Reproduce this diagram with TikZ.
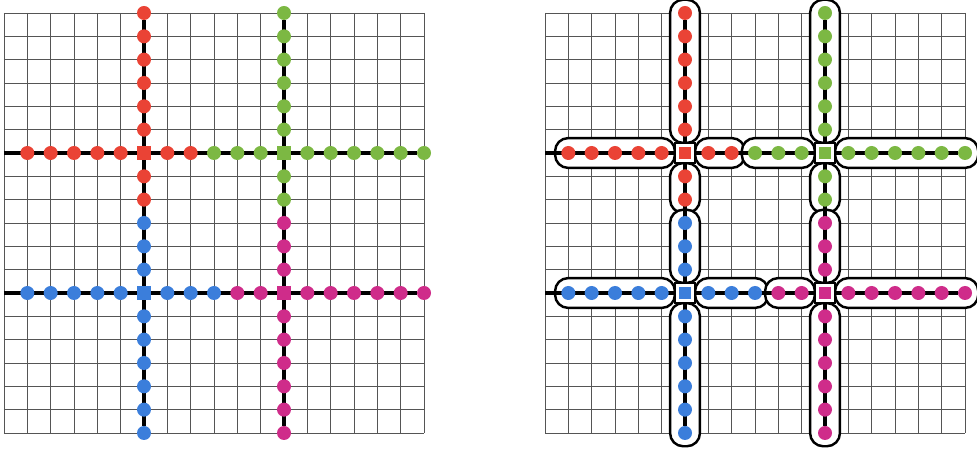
\documentclass[tikz,border=0pt]{standalone}
\usetikzlibrary{positioning, fit}
\definecolor{dotred}{HTML}{EA4335}
\definecolor{dotgreen}{HTML}{7CB843}
\definecolor{dotblue}{HTML}{3B7EDB}
\definecolor{dotpink}{HTML}{CF2C8A}
\definecolor{gridgray}{HTML}{555555}

\pgfdeclarelayer{gridlayer}
\pgfdeclarelayer{boxlayer}
\pgfdeclarelayer{linelayer}
\pgfsetlayers{gridlayer,boxlayer,linelayer,main}

\begin{document}
\begin{tikzpicture}[
  x=0.7cm, y=0.7cm,
  gridline/.style={gridgray, line width=0.8pt},
  track/.style={line width=3.4pt, black},
]

% =============================================
% Styles — dots, hubs and group boxes
% =============================================
\tikzset{
  pt/.style={circle, fill=#1, inner sep=0pt, minimum size=4.2mm},
  hub/.style 2 args={rectangle, fill=#1, inner sep=0pt, minimum size=#2},
  hubframe/.style={rectangle, draw=black, fill=white, line width=1.7pt,
    inner sep=0pt, minimum size=5.8mm},
  hgrp/.style={draw=black, fill=white, line width=2.1pt, rounded corners=3.9mm,
    inner xsep=1.8mm, inner ysep=2.3mm},
  vgrp/.style={draw=black, fill=white, line width=2.1pt, rounded corners=3.9mm,
    inner xsep=2.3mm, inner ysep=1.8mm},
}

\useasboundingbox (-0.1714,0.557) rectangle (41.70,-18.90);

% =============================================
% Both panels: grid, tracks and dots
% =============================================
\foreach \g/\ox in {L/0, R/23.186} {
  \begin{pgfonlayer}{gridlayer}
    \foreach \i in {0,...,18} {
      \draw[gridline] (\ox+\i,0) -- (\ox+\i,-18);
      \draw[gridline] (\ox,-\i) -- (\ox+18,-\i);
    }
  \end{pgfonlayer}

  % column 6: red above, blue below
  \foreach \r in {0,...,5,7,8}
    \node[pt=dotred] (\g-6-\r) at (\ox+6,-\r) {};
  \foreach \r in {9,10,11,13,14,...,18}
    \node[pt=dotblue] (\g-6-\r) at (\ox+6,-\r) {};
  % column 12: green above, pink below
  \foreach \r in {0,...,5,7,8}
    \node[pt=dotgreen] (\g-12-\r) at (\ox+12,-\r) {};
  \foreach \r in {9,10,11,13,14,...,18}
    \node[pt=dotpink] (\g-12-\r) at (\ox+12,-\r) {};
  % row 6: red left, green right
  \foreach \c in {1,...,5,7,8}
    \node[pt=dotred] (\g-\c-6) at (\ox+\c,-6) {};
  \foreach \c in {9,10,11,13,14,...,18}
    \node[pt=dotgreen] (\g-\c-6) at (\ox+\c,-6) {};
  % row 12: blue left, pink right
  \foreach \c in {1,...,5,7,8,9}
    \node[pt=dotblue] (\g-\c-12) at (\ox+\c,-12) {};
  \foreach \c in {10,11,13,14,...,18}
    \node[pt=dotpink] (\g-\c-12) at (\ox+\c,-12) {};

  \coordinate (\g-0-6) at (\ox,-6);
  \coordinate (\g-0-12) at (\ox,-12);

  \begin{pgfonlayer}{linelayer}
    \draw[track] (\g-0-6) -- (\g-18-6);
    \draw[track] (\g-0-12) -- (\g-18-12);
    \draw[track] (\g-6-0) -- (\g-6-18);
    \draw[track] (\g-12-0) -- (\g-12-18);
  \end{pgfonlayer}
}

% =============================================
% Left panel: plain hubs
% =============================================
\node[hub={dotred}{4.4mm}]   (L-6-6)   at (6,-6)   {};
\node[hub={dotgreen}{4.4mm}] (L-12-6)  at (12,-6)  {};
\node[hub={dotblue}{4.4mm}]  (L-6-12)  at (6,-12)  {};
\node[hub={dotpink}{4.4mm}]  (L-12-12) at (12,-12) {};

% =============================================
% Right panel: framed hubs
% =============================================
\node[hubframe] (F-6-6)   at (23.186+6,-6)   {};
\node[hubframe] (F-12-6)  at (23.186+12,-6)  {};
\node[hubframe] (F-6-12)  at (23.186+6,-12)  {};
\node[hubframe] (F-12-12) at (23.186+12,-12) {};
\node[hub={dotred}{3.8mm}]   (R-6-6)   at (F-6-6)   {};
\node[hub={dotgreen}{3.8mm}] (R-12-6)  at (F-12-6)  {};
\node[hub={dotblue}{3.8mm}]  (R-6-12)  at (F-6-12)  {};
\node[hub={dotpink}{3.8mm}]  (R-12-12) at (F-12-12) {};

% =============================================
% Right panel: group boxes
% =============================================
\begin{pgfonlayer}{boxlayer}
  \foreach \a/\b [count=\k] in {0/5, 7/8, 9/11, 13/18} {
    \node[vgrp, fit=(R-6-\a)(R-6-\b)]  (grp-c6-\k)  {};
    \node[vgrp, fit=(R-12-\a)(R-12-\b)] (grp-c12-\k) {};
  }
  \foreach \a/\b [count=\k] in {1/5, 7/8, 9/11, 13/18}
    \node[hgrp, fit=(R-\a-6)(R-\b-6)] (grp-r6-\k) {};
  \foreach \a/\b [count=\k] in {1/5, 7/9, 10/11, 13/18}
    \node[hgrp, fit=(R-\a-12)(R-\b-12)] (grp-r12-\k) {};
\end{pgfonlayer}

\end{tikzpicture}
\end{document}
